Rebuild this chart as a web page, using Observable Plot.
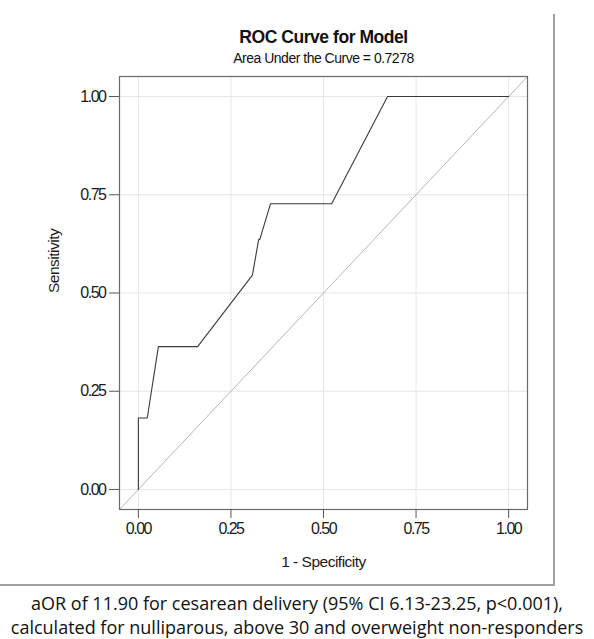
<!DOCTYPE html>
<html><head><meta charset="utf-8">
<script src="https://cdn.jsdelivr.net/npm/d3@7"></script>
<script src="https://cdn.jsdelivr.net/npm/@observablehq/plot@0.6"></script>
<style>
body{margin:0;background:#fff;}
#wrap{position:relative;width:594px;height:639px;overflow:hidden;background:#fff;}
#chart{position:absolute;left:0;top:0;}
#box{position:absolute;left:0;top:14px;width:553px;height:570px;border-right:2px solid #a0a0a0;border-bottom:2px solid #a0a0a0;}
#cap{position:absolute;left:0;top:591px;width:594px;text-align:center;font-family:"Open Sans",sans-serif;font-size:18px;line-height:24px;color:#111;white-space:nowrap;}
</style></head>
<body>
<div id="wrap">
  <div id="box"></div>
  <div id="chart"></div>
  <div id="cap"></div>
</div>
<script>
// Data
const fpr = [0, 0, 0.024, 0.054, 0.160, 0.308, 0.325, 0.328, 0.357, 0.522, 0.673, 1.0];
const tpr = [0, 0.1818, 0.1818, 0.3636, 0.3636, 0.5455, 0.6364, 0.6364, 0.7273, 0.7273, 1.0, 1.0];
const xTicks = [0, 0.25, 0.5, 0.75, 1.0];
const yTicks = [0, 0.25, 0.5, 0.75, 1.0];
const axisDomain = [-0.051, 1.051];
const diagonal = [axisDomain[0], axisDomain[1]];
const title = "ROC Curve for Model";
const subtitle = "Area Under the Curve = 0.7278";
const xLabel = "1 - Specificity";
const yLabel = "Sensitivity";
const captionLines = [
  "aOR of 11.90 for cesarean delivery (95% CI 6.13-23.25, p<0.001),",
  "calculated for nulliparous, above 30 and overweight non-responders"
];

const curve = fpr.map((x, i) => ({x, y: tpr[i]}));
const diag = diagonal.map(v => ({x: v, y: v}));
const fmt = d3.format(".2f");

const chart = Plot.plot({
  width: 594,
  height: 590,
  marginLeft: 119,
  marginRight: 67,
  marginTop: 76,
  marginBottom: 81,
  style: {background: "transparent", fontFamily: "'Liberation Sans', Arial, sans-serif", color: "#1a1a1a", overflow: "visible"},
  x: {domain: axisDomain},
  y: {domain: axisDomain},
  marks: [
    Plot.gridX(xTicks, {stroke: "#e6e6e6", strokeOpacity: 1}),
    Plot.gridY(yTicks, {stroke: "#e6e6e6", strokeOpacity: 1}),
    Plot.line(diag, {x: "x", y: "y", stroke: "#b5b5b5", strokeWidth: 1}),
    Plot.line(curve, {x: "x", y: "y", stroke: "#3a3a3a", strokeWidth: 1.1}),
    Plot.frame({stroke: "#6a6a6a", strokeWidth: 1.2}),
    Plot.axisX({ticks: xTicks, tickFormat: fmt, tickSize: 9, tickPadding: 4, label: null, stroke: "#555"}),
    Plot.axisY({ticks: yTicks, tickFormat: fmt, tickSize: 10, tickPadding: 4, label: null, stroke: "#555"}),
    Plot.text([xLabel], {frameAnchor: "bottom", lineAnchor: "middle", dy: 53, fontSize: 15.5, fill: "#1a1a1a"}),
    Plot.text([yLabel], {frameAnchor: "left", lineAnchor: "middle", dx: -65, rotate: -90, fontSize: 15.5, fill: "#1a1a1a"}),
    Plot.text([title], {frameAnchor: "top", lineAnchor: "middle", dy: -39, fontSize: 17.5, fontWeight: "bold", fill: "#111"}),
    Plot.text([subtitle], {frameAnchor: "top", lineAnchor: "middle", dy: -18, fontSize: 14, fill: "#111"})
  ]
});
document.getElementById("chart").appendChild(chart);
const tickTexts = new Set(xTicks.concat(yTicks).map(fmt));
d3.select(chart).selectAll("text").each(function() {
  const t = this.textContent;
  if (t === title) this.style.letterSpacing = "-0.45px";
  else if (t === subtitle) this.style.letterSpacing = "-0.5px";
  else if (t === xLabel || t === yLabel) this.style.letterSpacing = "-0.5px";
  else if (tickTexts.has(t)) { this.style.fontSize = "16px"; this.style.letterSpacing = "-1.5px"; this.style.fill = "#1a1a1a"; }
});
document.getElementById("cap").innerHTML = captionLines.map(s => s.replace(/</g, "&lt;")).join("<br>");
</script>
</body></html>
